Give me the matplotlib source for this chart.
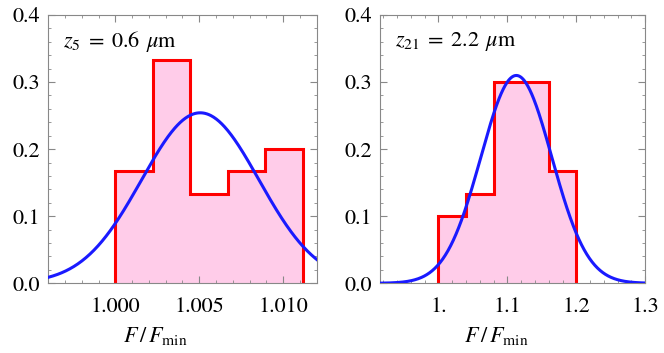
import numpy as np
import matplotlib.pyplot as plt
from matplotlib.ticker import MultipleLocator

plt.rcParams['font.family'] = ['STIXGeneral', 'DejaVu Serif']
plt.rcParams['mathtext.fontset'] = 'stix'

# left panel: z5 = 0.6 um
left_edges = [1.0, 1.00223, 1.00446, 1.00669, 1.00893, 1.01116]
left_heights = [5/30, 10/30, 4/30, 5/30, 6/30]
left_mu, left_sigma = 1.00506, 0.0035
left_xticks = [1.000, 1.005, 1.010]
left_xlabels = ["1.000", "1.005", "1.010"]

# right panel: z21 = 2.2 um
right_edges = [1.0, 1.04, 1.08, 1.12, 1.16, 1.20]
right_heights = [3/30, 4/30, 9/30, 9/30, 5/30]
right_mu, right_sigma = 1.113, 0.0515
right_xticks = [1.0, 1.1, 1.2, 1.3]
right_xlabels = ["1.", "1.1", "1.2", "1.3"]

yticks = [0.0, 0.1, 0.2, 0.3, 0.4]
ylabels = ["0.0", "0.1", "0.2", "0.3", "0.4"]

fill_col = '#ffcce9'
edge_col = '#ff0000'
curve_col = '#1a1aff'
frame_col = '#888888'

fig = plt.figure(figsize=(6.64, 3.53), dpi=100)
ax1 = fig.add_axes([0.0727, 0.1975, 0.4042, 0.760])
ax2 = fig.add_axes([0.5727, 0.1975, 0.3991, 0.760])


def panel(ax, edges, heights, mu, sigma, xlim, xticks, xlabels, xminor, text, label_x):
    ax.stairs(heights, edges, fill=True, color=fill_col, zorder=1)
    ax.stairs(heights, edges, color=edge_col, linewidth=2.2, zorder=2)
    # fitted normal, scaled to bin width
    w = edges[1] - edges[0]
    x = np.linspace(xlim[0], xlim[1], 400)
    y = w / (sigma * np.sqrt(2 * np.pi)) * np.exp(-(x - mu) ** 2 / (2 * sigma ** 2))
    ax.plot(x, y, color=curve_col, linewidth=2.2, zorder=3)

    ax.set_xlim(*xlim)
    ax.set_ylim(0, 0.4)
    ax.set_xticks(xticks, xlabels)
    ax.set_yticks(yticks, ylabels)
    ax.xaxis.set_minor_locator(MultipleLocator(xminor))
    ax.yaxis.set_minor_locator(MultipleLocator(0.02))
    ax.tick_params(which='both', direction='in', top=True, right=True,
                   color=frame_col, labelsize=16)
    ax.tick_params(axis='x', which='major', pad=10)
    ax.tick_params(axis='y', which='major', pad=6)
    ax.tick_params(which='major', length=5, width=0.8)
    ax.tick_params(which='minor', length=2.5, width=0.6)
    for s in ax.spines.values():
        s.set_color(frame_col)
        s.set_linewidth(0.8)
    ax.set_xlabel(r'$F\,/\,F_{\mathrm{min}}$', fontsize=16)
    ax.xaxis.set_label_coords(label_x, -0.155)
    ax.text(0.054, 0.902, text, transform=ax.transAxes, fontsize=16,
            ha='left', va='center')


panel(ax1, left_edges, left_heights, left_mu, left_sigma, (0.996, 1.012),
      left_xticks, left_xlabels, 0.001, r'$z_5\;=\;0.6\;\,\mu\mathrm{m}$', 0.397)
panel(ax2, right_edges, right_heights, right_mu, right_sigma, (0.9157, 1.3),
      right_xticks, right_xlabels, 0.02, r'$z_{21}\;=\;2.2\;\,\mu\mathrm{m}$', 0.438)

fig.savefig('out.png', dpi=100)
